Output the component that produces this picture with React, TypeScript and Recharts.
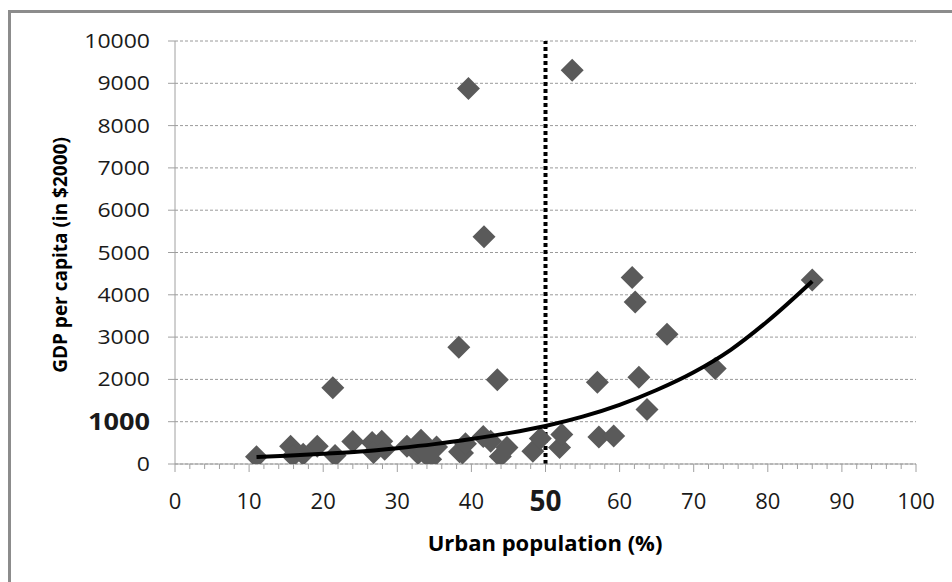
import React from "react";
import { ScatterChart, Scatter, XAxis, YAxis, CartesianGrid, ReferenceLine } from "recharts";

const urbanPct = [11.0, 15.6, 15.9, 17.3, 19.2, 21.3, 21.6, 24.0, 26.6, 27.9, 26.8, 28.3, 31.3, 33.2, 32.8, 33.6, 34.5, 35.3, 38.3, 38.4, 38.8, 39.2, 39.6, 41.7, 41.6, 42.6, 43.5, 43.9, 44.8, 48.3, 49.3, 51.9, 52.2, 53.6, 57.0, 57.2, 59.2, 61.7, 62.1, 62.6, 63.7, 66.4, 72.9, 86.0];
const gdpPerCapita = [170, 420, 190, 230, 420, 1800, 200, 530, 510, 540, 270, 350, 420, 560, 250, 300, 110, 400, 2760, 290, 260, 480, 8880, 5370, 650, 540, 1990, 180, 390, 300, 600, 390, 700, 9310, 1930, 640, 660, 4410, 3830, 2050, 1290, 3070, 2260, 4350];

const trendX = [11, 15, 20, 25, 30, 35, 40, 45, 50, 55, 60, 65, 70, 75, 80, 86];
const trendY = [165, 195, 240, 295, 375, 470, 590, 730, 900, 1120, 1400, 1750, 2170, 2700, 3380, 4320];

const xTicks = [0, 2, 4, 6, 8, 10, 12, 14, 16, 18, 20, 22, 24, 26, 28, 30, 32, 34, 36, 38, 40, 42, 44, 46, 48, 50, 52, 54, 56, 58, 60, 62, 64, 66, 68, 70, 72, 74, 76, 78, 80, 82, 84, 86, 88, 90, 92, 94, 96, 98, 100];
const yTicks = [0, 1000, 2000, 3000, 4000, 5000, 6000, 7000, 8000, 9000, 10000];

const points = urbanPct.map((x, i) => ({ x, y: gdpPerCapita[i] }));
const trend = trendX.map((x, i) => ({ x, y: trendY[i] }));

const FONT = "'Open Sans', 'Noto Sans', sans-serif";

const Diamond = (props: any) => {
  const { cx, cy } = props;
  if (cx == null || cy == null) return <g />;
  const r = 11.5;
  return (
    <polygon
      points={`${cx},${cy - r} ${cx + r},${cy} ${cx},${cy + r} ${cx - r},${cy}`}
      fill="#5a5a5a"
    />
  );
};

const NoShape = () => <g />;

const XTick = (props: any) => {
  const { x, y, payload } = props;
  const v = payload.value;
  const major = v % 10 === 0;
  const bold = v === 50;
  return (
    <g>
      <line x1={x} x2={x} y1={y} y2={y + (major ? 8 : 5)} stroke="#a0a0a0" strokeWidth={1} />
      {major && (
        <text
          x={x}
          y={y + (bold ? 47 : 45)}
          textAnchor="middle"
          fontFamily={FONT}
          fontSize={bold ? 28 : 22}
          fontWeight={bold ? 700 : 400}
          fill="#1a1a1a"
        >
          {v}
        </text>
      )}
    </g>
  );
};

const YTick = (props: any) => {
  const { x, y, payload } = props;
  const v = payload.value;
  const bold = v === 1000;
  const fs = bold ? 24 : 19.5;
  return (
    <g transform={`translate(${x},${y + (bold ? 8.5 : 7)}) scale(${bold ? 1.13 : 1.18},1)`}>
      <text x={0} y={0} textAnchor="end" fontFamily={FONT} fontSize={fs} fontWeight={bold ? 700 : 400} fill="#1a1a1a">
        {v}
      </text>
    </g>
  );
};

export default function App() {
  return (
    <div style={{ position: "absolute", left: 0, top: 0, width: 952, height: 582, overflow: "hidden", background: "#fff" }}>
      <div
        style={{
          position: "absolute",
          left: 8,
          top: 10,
          width: 1200,
          height: 1200,
          borderLeft: "3px solid #8c8c8c",
          borderTop: "3px solid #8c8c8c",
        }}
      />
      <div style={{ position: "absolute", left: 0, top: 0 }}>
        <ScatterChart width={952} height={582} margin={{ top: 41, right: 36, bottom: 88, left: 75 }}>
          <CartesianGrid vertical={false} stroke="#9a9a9a" strokeDasharray="3 2" strokeWidth={1} />
          <XAxis
            type="number"
            dataKey="x"
            domain={[0, 100]}
            ticks={xTicks}
            interval={0}
            height={30}
            tickSize={0}
            tickMargin={0}
            tickLine={false}
            axisLine={{ stroke: "#a0a0a0", strokeWidth: 1 }}
            tick={<XTick />}
            allowDataOverflow
          />
          <YAxis
            type="number"
            dataKey="y"
            domain={[0, 10000]}
            ticks={yTicks}
            interval={0}
            width={100}
            tickSize={7}
            tickMargin={18}
            tickLine={{ stroke: "#a0a0a0", strokeWidth: 1 }}
            axisLine={{ stroke: "#a0a0a0", strokeWidth: 1 }}
            tick={<YTick />}
            allowDataOverflow
          />
          <ReferenceLine x={50} stroke="#000" strokeWidth={4} strokeDasharray="4 3" />
          <Scatter data={points} shape={<Diamond />} isAnimationActive={false} />
          <Scatter
            data={trend}
            shape={<NoShape />}
            stroke="#000"
            strokeWidth={4}
            line={{ stroke: "#000", strokeWidth: 4 }}
            lineJointType="monotoneX"
            isAnimationActive={false}
          />
        </ScatterChart>
      </div>
      <svg width={952} height={582} style={{ position: "absolute", left: 0, top: 0, pointerEvents: "none" }}>
        <text
          transform="translate(67,255) rotate(-90)"
          textAnchor="middle"
          fontFamily={FONT}
          fontSize={19}
          fontWeight={700}
          fill="#000"
        >
          GDP per capita (in $2000)
        </text>
        <text x={545} y={551} textAnchor="middle" fontFamily={FONT} fontSize={22} fontWeight={700} fill="#000">
          Urban population (%)
        </text>
      </svg>
    </div>
  );
}
